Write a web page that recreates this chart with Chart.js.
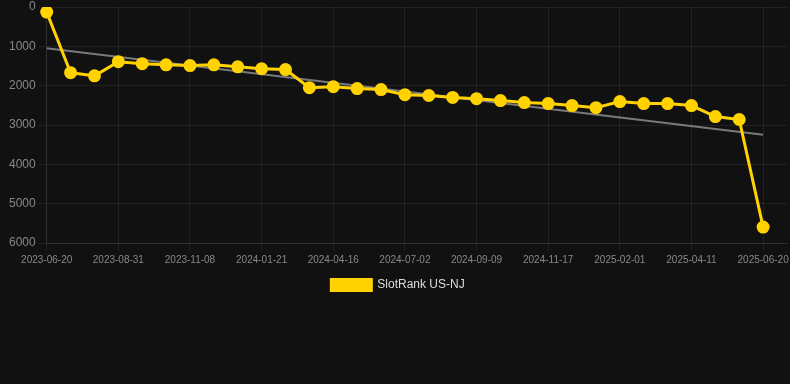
<!DOCTYPE html>
<html>
<head>
<meta charset="utf-8">
<script src="https://cdn.jsdelivr.net/npm/chart.js@4"></script>
<style>
  html, body { margin: 0; padding: 0; background: #111111; }
  #wrap { width: 790px; height: 301px; }
</style>
</head>
<body>
<div id="wrap"><canvas id="rank-chart"></canvas></div>
<script>
// dates on the x axis (only every 3rd one is shown as a tick label)
var dates = [
  "2023-06-20", "2023-07-14", "2023-08-07", "2023-08-31", "2023-09-23", "2023-10-16",
  "2023-11-08", "2023-12-02", "2023-12-27", "2024-01-21", "2024-02-19", "2024-03-18",
  "2024-04-16", "2024-05-12", "2024-06-07", "2024-07-02", "2024-07-25", "2024-08-17",
  "2024-09-09", "2024-10-02", "2024-10-25", "2024-11-17", "2024-12-12", "2025-01-07",
  "2025-02-01", "2025-02-24", "2025-03-19", "2025-04-11", "2025-05-04", "2025-05-27",
  "2025-06-20", ""
];

// rank values
var rankNJ = [
  130, 1670, 1750, 1390, 1440, 1470, 1490, 1470, 1520, 1570, 1590,
  2050, 2025, 2075, 2100, 2230, 2250, 2300, 2330, 2380, 2430, 2455,
  2505, 2560, 2405, 2455, 2455, 2505, 2785, 2860, 5595, null
];

// trend line: only the two end points, joined across the gaps
var trend = [1050, null, null, null, null, null, null, null, null, null, null,
  null, null, null, null, null, null, null, null, null, null, null,
  null, null, null, null, null, null, null, null, 3250, null];

var yTicks = [0, 1000, 2000, 3000, 4000, 5000, 6000];

var gridColor = "rgba(255,255,255,0.07)";

new Chart(document.getElementById("rank-chart"), {
  type: "line",
  data: {
    labels: dates,
    datasets: [
      {
        label: "SlotRank US-NJ",
        data: rankNJ,
        borderColor: "#ffd200",
        backgroundColor: "#ffd200",
        borderWidth: 3,
        pointRadius: 5,
        pointHoverRadius: 6,
        tension: 0
      },
      {
        label: "trend",
        data: trend,
        borderColor: "rgba(140,140,140,0.85)",
        borderWidth: 2,
        pointRadius: 0,
        spanGaps: true,
        tension: 0
      }
    ]
  },
  options: {
    responsive: true,
    maintainAspectRatio: false,
    animation: false,
    layout: { autoPadding: false, padding: { left: 6 } },
    plugins: {
      legend: {
        position: "bottom",
        labels: {
          color: "#dddddd",
          font: { family: "Liberation Sans, Arial, sans-serif", size: 12 },
          boxWidth: 40,
          boxHeight: 11,
          filter: function (item) { return item.text !== "trend"; }
        }
      },
      tooltip: { enabled: false }
    },
    scales: {
      x: {
        grid: {
          color: function (ctx) { return ctx.index % 3 === 0 ? gridColor : "transparent"; }
        },
        border: { color: gridColor },
        ticks: {
          color: "#888888",
          font: { family: "Liberation Sans, Arial, sans-serif", size: 10 },
          autoSkip: false,
          maxRotation: 0,
          callback: function (val, i) { return i % 3 === 0 ? dates[i] : ""; }
        }
      },
      y: {
        reverse: true,
        min: 0,
        max: 6000,
        afterBuildTicks: function (axis) {
          axis.ticks = yTicks.map(function (v) { return { value: v }; });
        },
        afterFit: function (axis) { axis.paddingTop = 7; },
        grid: { color: gridColor },
        border: { color: gridColor },
        ticks: {
          color: "#888888",
          font: { family: "Liberation Sans, Arial, sans-serif", size: 12 },
          callback: function (v) { return String(v); }
        }
      }
    }
  }
});
</script>
</body>
</html>
